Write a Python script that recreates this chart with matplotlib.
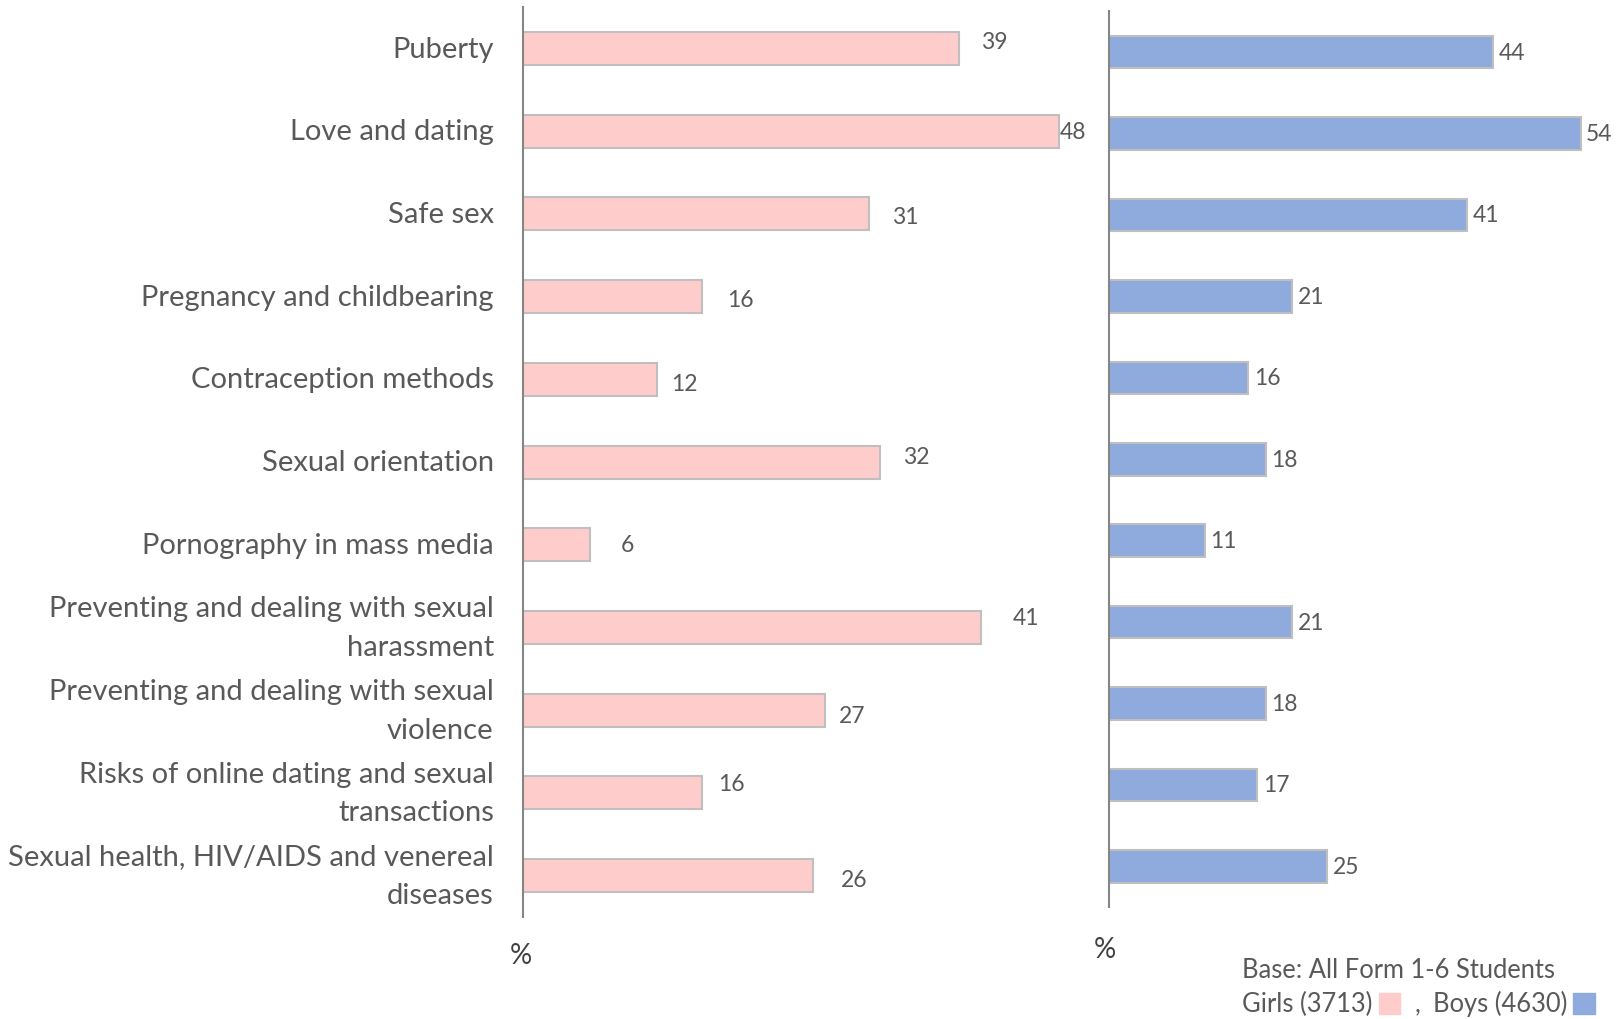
import numpy as np
import matplotlib.pyplot as plt
from matplotlib.patches import Rectangle

topics = ["Puberty", "Love and dating", "Safe sex", "Pregnancy and childbearing",
          "Contraception methods", "Sexual orientation", "Pornography in mass media",
          "Preventing and dealing with sexual\nharassment",
          "Preventing and dealing with sexual\nviolence",
          "Risks of online dating and sexual\ntransactions",
          "Sexual health, HIV/AIDS and venereal\ndiseases"]
girls = [39, 48, 31, 16, 12, 32, 6, 41, 27, 16, 26]
boys = [44, 54, 41, 21, 16, 18, 11, 21, 18, 17, 25]

# hand-placed label nudges on the girls side (points)
girl_dx = [16, 0, 16, 18, 10, 16, 22, 23, 10, 12, 20]
girl_dy = [5, 0, -2, -2, -3, 4, 0, 7, -4, 7, -3]

text_col = "#595959"
girl_col = "#FFCCCC"
boy_col = "#8FAADC"
edge_col = "#BFBFBF"
font = ["Lato", "Noto Sans CJK SC", "DejaVu Sans"]
plt.rcParams['font.family'] = font

fig = plt.figure(figsize=(16.23, 10.2), dpi=100)
ax1 = fig.add_axes([0.3222, 0.1, 0.358, 0.892])
ax2 = fig.add_axes([0.683, 0.1098, 0.3124, 0.878])

y = np.arange(len(topics))

ax1.barh(y, girls, height=0.4, color=girl_col, edgecolor=edge_col, linewidth=1.5)
ax2.barh(y, boys, height=0.4, color=boy_col, edgecolor=edge_col, linewidth=1.5)

for i, v in enumerate(girls):
    ax1.annotate(str(v), (v, i), xytext=(girl_dx[i], girl_dy[i]), textcoords='offset points',
                 ha='left', va='center', fontsize=16.5, color=text_col)
for i, v in enumerate(boys):
    ax2.annotate(str(v), (v, i), xytext=(4, 0), textcoords='offset points',
                 ha='left', va='center', fontsize=16.5, color=text_col)

for ax, xmax in [(ax1, 52), (ax2, 58)]:
    ax.set_xlim(0, xmax)
    ax.set_ylim(len(topics) - 0.5, -0.5)
    for s in ['top', 'right', 'bottom']:
        ax.spines[s].set_visible(False)
    ax.spines['left'].set_color("#868686")
    ax.spines['left'].set_linewidth(1.5)
    ax.set_xticks([])
    ax.tick_params(axis='y', length=0)

ax1.set_yticks(y)
ax1.set_yticklabels(topics, fontsize=21, color=text_col, ha='right', va='center',
                    linespacing=1.6)
ax1.tick_params(axis='y', pad=21)
ax2.set_yticks([])

fig.text(521 / 1623, 1 - 956 / 1020, "%", fontsize=20, color="#404040", ha='center', va='center')
fig.text(1105 / 1623, 1 - 950 / 1020, "%", fontsize=20, color="#404040", ha='center', va='center')

fs_leg = 18.4
fig.text(1242 / 1623, 1 - 971 / 1020, "Base: All Form 1-6 Students", fontsize=fs_leg,
         color=text_col, ha='left', va='center')
fig.text(1242 / 1623, 1 - 1004 / 1020, "Girls (3713)", fontsize=fs_leg,
         color=text_col, ha='left', va='center')
fig.text(1418 / 1623, 1 - 1004 / 1020, ",", fontsize=fs_leg,
         color=text_col, ha='center', va='center')
fig.text(1433 / 1623, 1 - 1004 / 1020, "Boys (4630)", fontsize=fs_leg,
         color=text_col, ha='left', va='center')
fig.patches.append(Rectangle((1379 / 1623, 1 - 1015 / 1020), 21 / 1623, 21 / 1020,
                             transform=fig.transFigure, color=girl_col, figure=fig))
fig.patches.append(Rectangle((1573 / 1623, 1 - 1015 / 1020), 22 / 1623, 21 / 1020,
                             transform=fig.transFigure, color=boy_col, figure=fig))

fig.savefig("out.png", dpi=100, facecolor='white')
